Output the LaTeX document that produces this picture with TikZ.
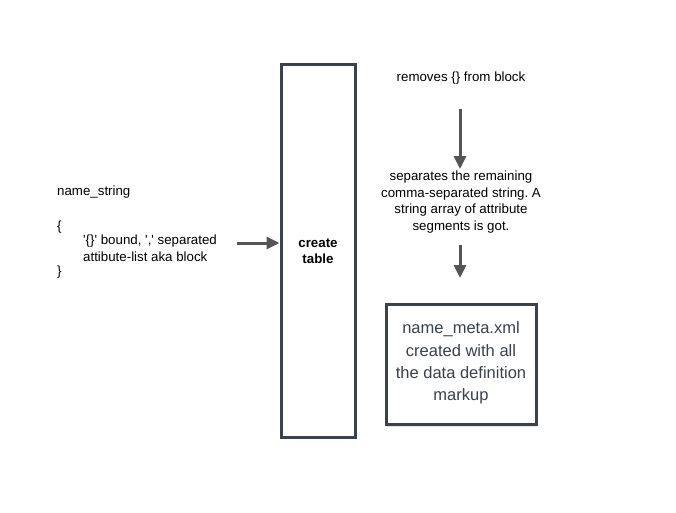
\documentclass[tikz,border=0pt]{standalone}
\usepackage{fontspec}
\setmainfont{Liberation Sans}
\usetikzlibrary{arrows.meta,shadows}
\definecolor{edge}{HTML}{555555}
\definecolor{boxtext}{HTML}{3A414A}
\definecolor{boxline}{HTML}{3B4249}
\frenchspacing
\begin{document}
\begin{tikzpicture}[x=1pt,y=-1pt,
  lbl/.style={font=\fontsize{13.3}{16.5}\selectfont, inner sep=0pt, text=black},
  conn/.style={draw=edge, line width=3pt, -{Triangle[length=13pt,width=12pt]}},
  bigbox/.style={draw=boxline, line width=3pt, fill=white}]
\useasboundingbox (0,0) rectangle (676,513);
% tall box
\node[bigbox, minimum width=74pt, minimum height=372pt, inner sep=0pt] (table) at (318,251) {};
\node[lbl, align=center, font=\fontsize{13.3}{16.5}\selectfont\bfseries] (tlabel) at (318,251) {create\\table};
% left text
\node[lbl, anchor=west] (ns) at (57,192) {name\_string};
\node[lbl, anchor=west] (ob) at (57,227) {\{};
\node[lbl, anchor=north west, align=left] (blk) at (83,235) {\textquotesingle\{\}\textquotesingle{} bound, \textquotesingle,\textquotesingle{} separated\\attibute-list aka block};
\node[lbl, anchor=west] (cb) at (57,272) {\}};
\coordinate (hstart) at (237,243);
\draw[conn] (hstart) -- (table.west |- hstart);
% right texts
\node[lbl] (rem) at (461,78) {removes \{\} from block};
\node[lbl, align=center] (sep) at (461,202) {separates the remaining\\comma-separated string. A\\string array of attribute\\segments is got.};
\coordinate (a1s) at (460,109);
\coordinate (a1e) at (460,169);
\draw[conn] (a1s) -- (a1e);
% output box
\node[bigbox, minimum width=150pt, minimum height=120pt, inner sep=0pt,
  drop shadow={opacity=0.2, shadow xshift=1pt, shadow yshift=-3pt}] (xml) at (461,364) {};
\node[inner sep=0pt, align=center, text=boxtext, font=\fontsize{16.5}{22.3}\selectfont] (xmltext) at (461,363) {name\_meta.xml\\created with all\\the data definition\\markup};
\coordinate (a2s) at (460,245);
\coordinate (a2e) at (460,278);
\draw[conn] (a2s) -- (a2e);
\end{tikzpicture}
\end{document}
